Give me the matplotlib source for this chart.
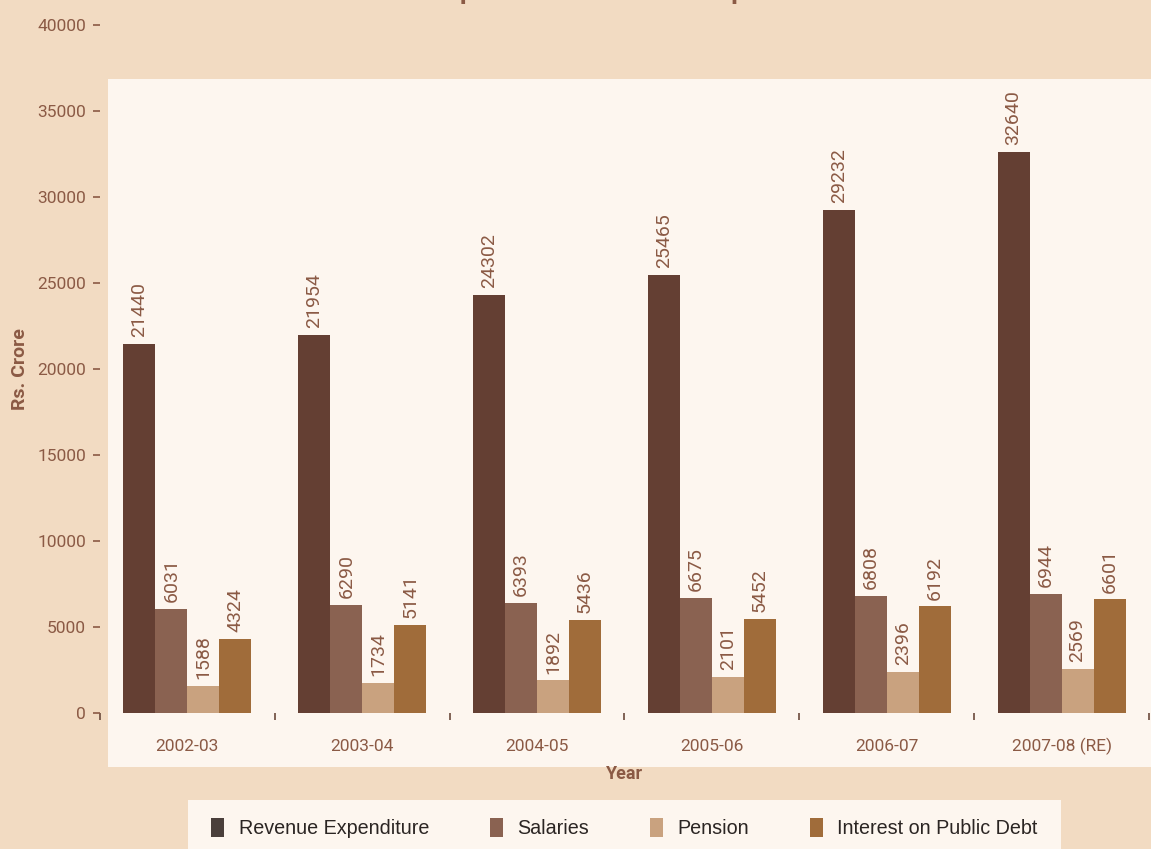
import numpy as np
import matplotlib
matplotlib.use("Agg")
import matplotlib.pyplot as plt
from matplotlib.patches import Rectangle, Patch
from matplotlib.ticker import FixedLocator

# Composição da despesa de receita (Rs. Crore)
anos = ["2002-03", "2003-04", "2004-05", "2005-06", "2006-07", "2007-08 (RE)"]
despesa_receita = [21440, 21954, 24302, 25465, 29232, 32640]
salarios = [6031, 6290, 6393, 6675, 6808, 6944]
pensao = [1588, 1734, 1892, 2101, 2396, 2569]
juros = [4324, 5141, 5436, 5452, 6192, 6601]
series_nomes = ["Revenue Expenditure", "Salaries", "Pension", "Interest on Public Debt"]

FUNDO = "#F2DBC2"
PAINEL = "#FDF6EF"
TEXTO = "#8B5A45"
cores_barras = ["#643F33", "#8A6251", "#C9A27F", "#A06C3A"]
cores_legenda = ["#4A3F3B", "#8A6251", "#C9A27F", "#A06C3A"]

fig = plt.figure(figsize=(11.51, 8.49), dpi=100, facecolor=FUNDO)

# painel claro atrás do gráfico
fig.patches.append(Rectangle((108 / 1151, 1 - 767 / 849), 1 - 108 / 1151,
                             (767 - 79) / 849, transform=fig.transFigure,
                             facecolor=PAINEL, edgecolor="none", zorder=-2))
# caixa da legenda
fig.patches.append(Rectangle((188 / 1151, 0), (1061 - 188) / 1151, 1 - 800 / 849,
                             transform=fig.transFigure,
                             facecolor=PAINEL, edgecolor="none", zorder=-2))

ax = fig.add_axes([100 / 1151, 1 - 713 / 849, 1049 / 1151, 688 / 849])
ax.set_facecolor("none")
ax.set_zorder(1)
for s in ax.spines.values():
    s.set_visible(False)

x = np.arange(len(anos))
largura = 0.183
dados = [despesa_receita, salarios, pensao, juros]
for k, (serie, cor) in enumerate(zip(dados, cores_barras)):
    pos = x + (k - 1.5) * largura
    ax.bar(pos, serie, width=largura, color=cor, zorder=2)
    for xi, v in zip(pos, serie):
        ax.annotate(str(v), (xi, v), xytext=(0, 5), textcoords="offset points",
                    rotation=90, ha="center", va="bottom", fontsize=14,
                    family="Roboto", color=TEXTO)

ax.set_xlim(-0.5, len(anos) - 0.5)
ax.set_ylim(0, 40000)
ax.set_yticks(np.arange(0, 40001, 5000))
ax.set_xticks(x)
ax.set_xticklabels(anos)
ax.xaxis.set_minor_locator(FixedLocator(np.arange(-0.5, len(anos), 1.0)))
ax.tick_params(axis="x", which="major", length=0, pad=24, labelsize=12.5,
               labelcolor=TEXTO)
ax.tick_params(axis="x", which="minor", length=5, width=1.2, color="#6B4A3C")
ax.tick_params(axis="y", length=5, width=1.2, color=TEXTO, pad=5,
               labelsize=12.5, labelcolor=TEXTO)
for lab in ax.get_xticklabels():
    lab.set_family("Roboto")
    lab.set_verticalalignment("center")
for lab in ax.get_yticklabels():
    lab.set_family("Roboto")

ax.set_xlabel("Year", fontsize=13, fontweight="bold", color=TEXTO,
              family="Roboto")
ax.xaxis.set_label_coords(0.5, -0.076)
ax.set_ylabel("Rs. Crore", fontsize=14, fontweight="bold", color=TEXTO,
              family="Roboto")
ax.yaxis.set_label_coords(-0.068, 0.5)

fig.text(625 / 1151, 1.001, "Composition of Revenue Expenditure", ha="center",
         va="baseline", fontsize=19, fontweight="bold", color=TEXTO,
         family="Roboto")

alcas = [Patch(facecolor=c, edgecolor="none") for c in cores_legenda]
fig.legend(alcas, series_nomes, loc="center", ncol=4,
           bbox_to_anchor=(624.5 / 1151, 1 - 828 / 849), frameon=False,
           handlelength=0.66, handleheight=1.1, handletextpad=0.72,
           columnspacing=3.1, prop={"family": "Liberation Sans", "size": 14.2},
           labelcolor="#2B2523")

fig.savefig("out.png", dpi=100, facecolor=FUNDO)
